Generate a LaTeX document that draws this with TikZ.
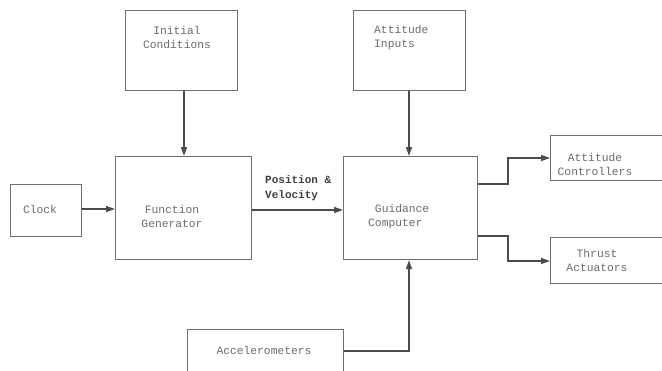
\documentclass[tikz,border=0pt]{standalone}
\usepackage{fontspec}
\setmonofont{Liberation Mono}
\usetikzlibrary{arrows.meta}
\definecolor{lin}{gray}{0.3}
\definecolor{txt}{gray}{0.42}
\tikzset{
  blk/.style={draw=lin!80, line width=1.1pt},
  lbl/.style={font=\ttfamily\fontsize{11.3}{14}\selectfont, text=txt, inner sep=0pt},
  conn/.style={draw=lin, line width=1.4pt, -{Triangle[length=9pt,width=6pt]}},
}
\begin{document}
\begin{tikzpicture}[x=1pt,y=-1pt]
\useasboundingbox (0,0) rectangle (662,370);
% boxes
\node[blk, minimum width=112pt, minimum height=80pt, anchor=north west] (ic) at (125,10) {};
\node[blk, minimum width=112pt, minimum height=80pt, anchor=north west] (ai) at (353,10) {};
\node[blk, minimum width=136pt, minimum height=103pt, anchor=north west] (fg) at (115,156) {};
\node[blk, minimum width=71pt, minimum height=52pt, anchor=north west] (ck) at (10,184) {};
\node[blk, minimum width=134pt, minimum height=103pt, anchor=north west] (gc) at (343,156) {};
\node[blk, minimum width=125pt, minimum height=45pt, anchor=north west] (ac) at (550,135) {};
\node[blk, minimum width=125pt, minimum height=46pt, anchor=north west] (ta) at (550,237) {};
\node[blk, minimum width=156pt, minimum height=60pt, anchor=north west] (acc) at (187,329) {};
% texts
\node[lbl, align=center] (ict) at (177,37) {Initial\\Conditions};
\node[lbl, align=left, anchor=west] (ait) at (374,38) {Attitude\\Inputs};
\node[lbl, align=center] (fgt) at (172,216) {Function\\Generator};
\node[lbl] (ckt) at (40,209) {Clock};
\node[lbl, align=left, anchor=west] (gct) at (368,217) {~Guidance\\Computer};
\node[lbl, align=center] (act) at (595,164) {Attitude\\Controllers};
\node[lbl, align=center] (tat) at (597,260) {Thrust\\Actuators};
\node[lbl] (acct) at (264,350) {Accelerometers};
\node[lbl, align=left, anchor=west, text=black!75, font=\ttfamily\bfseries\fontsize{11}{15.5}\selectfont] (pv) at (265,188) {Position \&\\Velocity};
% connectors
\draw[conn] (ic.south -| 184,0) -- (fg.north -| 184,0);
\draw[conn] (ai.south -| 409,0) -- (gc.north -| 409,0);
\draw[conn] (ck.east |- 0,209) -- (fg.west |- 0,209);
\draw[conn] (fg.east |- 0,210) -- (gc.west |- 0,210);
\coordinate (j1) at (508,184);
\coordinate (j2) at (508,158);
\draw[conn] (gc.east |- j1) -- (j1) -- (j2) -- (ac.west |- j2);
\coordinate (j3) at (508,236);
\coordinate (j4) at (508,261);
\draw[conn] (gc.east |- j3) -- (j3) -- (j4) -- (ta.west |- j4);
\coordinate (j5) at (409,351);
\draw[conn] (acc.east |- j5) -- (j5) -- (gc.south -| j5);
\end{tikzpicture}
\end{document}
